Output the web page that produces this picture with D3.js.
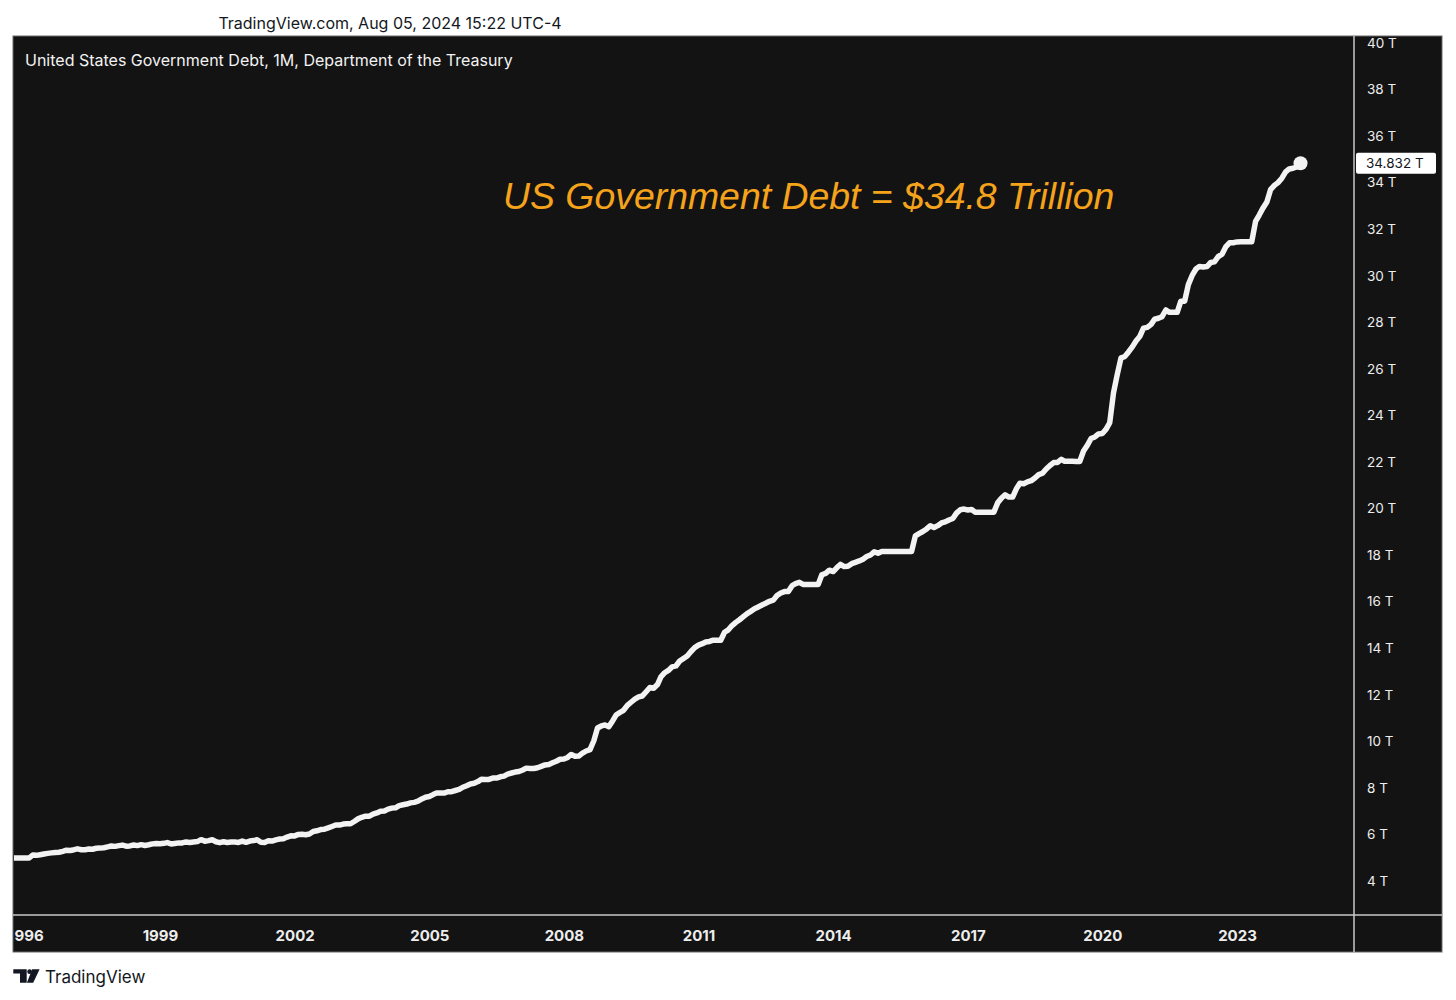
<!DOCTYPE html>
<html>
<head>
<meta charset="utf-8">
<script src="https://cdn.jsdelivr.net/npm/d3@7"></script>
<style>
  html, body { margin: 0; padding: 0; background: #ffffff; }
  svg { display: block; }
</style>
</head>
<body>
<svg id="chart" width="1456" height="1000"></svg>
<script>
// ---------------- DATA ----------------
const headerText = "TradingView.com, Aug 05, 2024 15:22 UTC-4";
const titleText = "United States Government Debt, 1M, Department of the Treasury";
const annotationText = "US Government Debt = $34.8 Trillion";
const lastLabel = "34.832 T";

// first monthly observation: October 1995
const startYear = 1995, startMonth = 9; // 0-based month index
// US total public debt outstanding, trillions USD, monthly (Oct 1995 .. Jun 2024)
const debt = [
  4.985, 4.989, 4.988,                                                              // 1995 Oct-Dec
  4.987, 4.988, 5.117, 5.102, 5.130, 5.161, 5.188, 5.208, 5.225, 5.236, 5.276, 5.323, // 1996
  5.313, 5.345, 5.381, 5.342, 5.346, 5.376, 5.366, 5.406, 5.413, 5.427, 5.464, 5.503, // 1997
  5.488, 5.519, 5.543, 5.497, 5.508, 5.548, 5.521, 5.561, 5.526, 5.556, 5.595, 5.614, // 1998
  5.601, 5.618, 5.651, 5.593, 5.615, 5.638, 5.635, 5.678, 5.656, 5.679, 5.694, 5.776, // 1999
  5.712, 5.735, 5.773, 5.686, 5.647, 5.686, 5.655, 5.679, 5.674, 5.658, 5.716, 5.662, // 2000
  5.716, 5.736, 5.774, 5.661, 5.656, 5.727, 5.718, 5.770, 5.807, 5.815, 5.888, 5.943, // 2001
  5.937, 6.003, 6.006, 5.985, 6.019, 6.126, 6.159, 6.210, 6.228, 6.282, 6.343, 6.405, // 2002
  6.401, 6.445, 6.460, 6.460, 6.558, 6.670, 6.737, 6.785, 6.783, 6.872, 6.925, 6.998, // 2003
  7.009, 7.089, 7.131, 7.144, 7.240, 7.274, 7.307, 7.356, 7.379, 7.429, 7.525, 7.596, // 2004
  7.629, 7.713, 7.777, 7.777, 7.776, 7.836, 7.838, 7.888, 7.933, 8.028, 8.093, 8.170, // 2005
  8.196, 8.270, 8.371, 8.358, 8.364, 8.420, 8.420, 8.476, 8.507, 8.594, 8.640, 8.680, // 2006
  8.707, 8.771, 8.849, 8.830, 8.831, 8.867, 8.926, 8.988, 9.008, 9.079, 9.144, 9.229, // 2007
  9.238, 9.309, 9.437, 9.358, 9.365, 9.492, 9.585, 9.645, 10.025, 10.574, 10.661, 10.700, // 2008
  10.632, 10.876, 11.127, 11.239, 11.334, 11.545, 11.679, 11.813, 11.909, 11.949, 12.130, 12.311, // 2009
  12.278, 12.440, 12.773, 12.948, 13.047, 13.201, 13.239, 13.449, 13.562, 13.667, 13.860, 14.025, // 2010
  14.131, 14.195, 14.270, 14.290, 14.344, 14.343, 14.343, 14.684, 14.790, 14.974, 15.110, 15.223, // 2011
  15.356, 15.488, 15.582, 15.692, 15.771, 15.856, 15.931, 16.016, 16.066, 16.261, 16.370, 16.433, // 2012
  16.433, 16.688, 16.771, 16.829, 16.739, 16.738, 16.738, 16.738, 16.738, 17.156, 17.217, 17.352, // 2013
  17.293, 17.464, 17.601, 17.508, 17.517, 17.632, 17.688, 17.749, 17.824, 17.937, 18.005, 18.141, // 2014
  18.082, 18.156, 18.152, 18.152, 18.152, 18.152, 18.151, 18.151, 18.151, 18.153, 18.827, 18.922, // 2015
  19.013, 19.126, 19.264, 19.187, 19.265, 19.381, 19.428, 19.510, 19.573, 19.805, 19.948, 19.977, // 2016
  19.937, 19.959, 19.846, 19.846, 19.846, 19.845, 19.845, 19.845, 20.245, 20.442, 20.590, 20.493, // 2017
  20.494, 20.856, 21.090, 21.068, 21.145, 21.195, 21.313, 21.458, 21.516, 21.702, 21.850, 21.974, // 2018
  21.982, 22.115, 22.028, 22.029, 22.027, 22.023, 22.022, 22.469, 22.719, 23.008, 23.076, 23.201, // 2019
  23.223, 23.410, 23.686, 24.974, 25.746, 26.477, 26.525, 26.728, 26.945, 27.193, 27.396, 27.748, // 2020
  27.783, 27.911, 28.133, 28.173, 28.242, 28.529, 28.427, 28.428, 28.428, 28.908, 28.907, 29.617, // 2021
  30.012, 30.290, 30.401, 30.374, 30.396, 30.569, 30.598, 30.820, 30.928, 31.238, 31.413, 31.420, // 2022
  31.455, 31.459, 31.458, 31.459, 31.464, 32.332, 32.608, 32.914, 33.167, 33.698, 33.880, 34.001, // 2023
  34.191, 34.460, 34.586, 34.617, 34.672, 34.832                                      // 2024 Jan-Jun
];

const yTickValues = [4, 6, 8, 10, 12, 14, 16, 18, 20, 22, 24, 26, 28, 30, 32, 34, 36, 38, 40];
const xTickYears = [1996, 1999, 2002, 2005, 2008, 2011, 2014, 2017, 2020, 2023];

// ---------------- LAYOUT ----------------
const svg = d3.select("#chart");
const panel = { x: 13, y: 36, w: 1429, h: 916 };
const plot = { left: 14, right: 1354, top: 37, bottom: 914 };
const xAxisBottom = 952;

const points = debt.map((v, i) => ({ date: new Date(startYear, startMonth + i, 1), value: v }));

const x = d3.scaleTime()
  .domain([new Date(1999, 0, 1), new Date(2023, 0, 1)])
  .range([160, 1237]);
const y = d3.scaleLinear()
  .domain([2.583, 40.256])
  .range([plot.bottom, plot.top]);

const UI = "Inter, 'Noto Sans', 'Liberation Sans', sans-serif";

// header
svg.append("text")
  .attr("x", 390).attr("y", 29)
  .attr("text-anchor", "middle")
  .attr("font-family", UI).attr("font-size", 16)
  .attr("fill", "#131722")
  .text(headerText);

// dark panel
svg.append("rect")
  .attr("x", panel.x).attr("y", panel.y)
  .attr("width", panel.w).attr("height", panel.h)
  .attr("fill", "#131313")
  .attr("stroke", "#6a6a6a").attr("stroke-width", 1);

const defs = svg.append("defs");
defs.append("clipPath").attr("id", "plotClip")
  .append("rect")
  .attr("x", plot.left).attr("y", plot.top)
  .attr("width", plot.right - plot.left).attr("height", plot.bottom - plot.top);
defs.append("clipPath").attr("id", "xClip")
  .append("rect")
  .attr("x", plot.left).attr("y", plot.bottom)
  .attr("width", plot.right - plot.left).attr("height", xAxisBottom - plot.bottom);

// separators
svg.append("line")
  .attr("x1", plot.right).attr("x2", plot.right)
  .attr("y1", panel.y).attr("y2", xAxisBottom)
  .attr("stroke", "#c8c8c8").attr("stroke-width", 1.5);
svg.append("line")
  .attr("x1", panel.x).attr("x2", panel.x + panel.w)
  .attr("y1", plot.bottom + 1).attr("y2", plot.bottom + 1)
  .attr("stroke", "#c8c8c8").attr("stroke-width", 1.5);

// title
svg.append("text")
  .attr("x", 25).attr("y", 66)
  .attr("font-family", UI).attr("font-size", 16)
  .attr("fill", "#f2f2f2")
  .text(titleText);

// annotation
svg.append("text")
  .attr("x", 503).attr("y", 209)
  .attr("font-family", "'Liberation Sans', Arial, sans-serif")
  .attr("font-style", "italic")
  .attr("font-size", 37.4)
  .attr("fill", "#f6a31c")
  .text(annotationText);

// line
const line = d3.line()
  .x(d => x(d.date))
  .y(d => y(d.value));

const g = svg.append("g").attr("clip-path", "url(#plotClip)");
g.append("path")
  .datum(points)
  .attr("d", line)
  .attr("fill", "none")
  .attr("stroke", "#f3f3f3")
  .attr("stroke-width", 5.5)
  .attr("stroke-linejoin", "round")
  .attr("stroke-linecap", "round");

const last = points[points.length - 1];
g.append("circle")
  .attr("cx", x(last.date)).attr("cy", y(last.value))
  .attr("r", 7)
  .attr("fill", "#f3f3f3");

// y axis labels (right)
const yAxis = d3.axisRight(y)
  .tickValues(yTickValues)
  .tickSize(0)
  .tickPadding(0)
  .tickFormat(d => d + " T");
const yg = svg.append("g")
  .attr("transform", `translate(${plot.right + 13},0)`)
  .call(yAxis);
yg.select(".domain").remove();
yg.selectAll("text")
  .attr("font-family", UI).attr("font-size", 13.5)
  .attr("fill", "#ededed");

// last value label
const ly = y(last.value);
svg.append("rect")
  .attr("x", plot.right + 2).attr("y", ly - 10.5)
  .attr("width", 80).attr("height", 21)
  .attr("rx", 2)
  .attr("fill", "#ffffff");
svg.append("text")
  .attr("x", plot.right + 12).attr("y", ly)
  .attr("dy", "0.35em")
  .attr("font-family", UI).attr("font-size", 13.5)
  .attr("fill", "#131722")
  .text(lastLabel);

// x axis labels
const xAxis = d3.axisBottom(x)
  .tickValues(xTickYears.map(yr => new Date(yr, 0, 1)))
  .tickSize(0)
  .tickPadding(0)
  .tickFormat(d3.timeFormat("%Y"));
const xg = svg.append("g")
  .attr("clip-path", "url(#xClip)")
  .append("g")
  .attr("transform", `translate(0,${plot.bottom + 16})`)
  .call(xAxis);
xg.select(".domain").remove();
xg.selectAll("text")
  .attr("font-family", UI).attr("font-size", 15)
  .attr("font-weight", 700)
  .attr("fill", "#ededed");

// footer logo
const logo = svg.append("g").attr("fill", "#131722");
logo.append("path").attr("d", "M13.3,969.3 H26.7 V982.7 H20 V973.6 H13.3 Z");
logo.append("circle").attr("cx", 29.6).attr("cy", 971.7).attr("r", 2.4);
logo.append("path").attr("d", "M32.2,969.3 H39.6 L33.2,982.7 H26.9 Z");
svg.append("text")
  .attr("x", 45).attr("y", 982.5)
  .attr("font-family", UI).attr("font-size", 17)
  .attr("fill", "#131722")
  .text("TradingView");
</script>
</body>
</html>
